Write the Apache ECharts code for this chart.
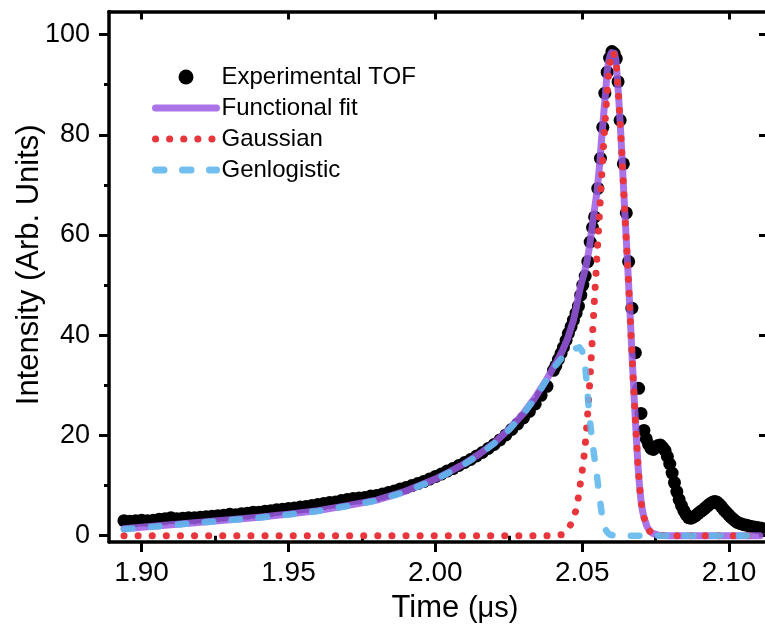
<!DOCTYPE html>
<html><head><meta charset="utf-8">
<script src="https://cdn.jsdelivr.net/npm/echarts@6/dist/echarts.min.js"></script>
<style>html,body{margin:0;padding:0;background:#fff;overflow:hidden}#c{width:765px;height:631px}</style>
</head><body><div id="c"></div>
<script>
// Experimental TOF data (time in µs, intensity in arb. units)
const expTime = [
1.894,1.896,1.898,1.900,1.902,1.904,1.906,1.908,1.910,1.912,1.914,1.916,1.918,1.920,1.922,1.924,1.926,1.928,1.930,1.932,
1.934,1.936,1.938,1.940,1.942,1.944,1.946,1.948,1.950,1.952,1.954,1.956,1.958,1.960,1.962,1.964,1.966,1.968,1.970,1.972,
1.974,1.976,1.978,1.980,1.982,1.984,1.986,1.988,1.990,1.992,1.994,1.996,1.998,2.000,2.002,2.004,2.006,2.008,2.010,2.012,
2.014,2.016,2.018,2.020,2.022,2.024,2.026,2.028,2.030,2.032,2.034,2.036,2.038,
2.0402,2.0410,2.0419,2.0428,2.0436,2.0445,2.0453,2.0462,2.0470,2.0479,2.0487,2.0495,2.0502,2.0510,2.0519,2.0527,2.0535,2.0542,
2.0553,2.0562,2.0570,2.0577,2.0585,2.0593,2.0601,2.0609,2.0616,2.0622,2.0629,2.0640,2.0650,2.0658,2.0669,2.0681,2.0692,2.0700,
2.0710,2.0718,2.0726,2.0734,2.0742,2.0750,2.0758,2.0766,2.0774,2.0782,2.0790,2.0798,2.0806,2.0814,2.0822,2.0830,2.0838,2.0846,
2.0854,2.0862,2.0870,2.0878,2.0886,2.0894,2.0902,2.0910,2.0918,2.0926,2.0934,2.0942,2.0950,2.0958,2.0966,2.0974,2.0982,2.0990,
2.0998,2.1006,2.1014,2.1022,2.1030,2.1040,2.1050,2.1060,2.1070,2.1080,2.1090,2.1100,2.1110
];
const expValue = [
3.0,2.9,3.0,3.1,3.0,3.1,3.3,3.4,3.6,3.4,3.5,3.6,3.6,3.7,3.8,3.9,4.0,4.1,4.3,4.2,
4.4,4.5,4.7,4.7,4.9,5.0,5.2,5.3,5.4,5.5,5.7,5.8,6.0,6.2,6.4,6.6,6.7,7.0,7.2,7.4,
7.5,7.6,7.9,8.0,8.3,8.6,8.9,9.3,9.6,10.0,10.4,10.8,11.3,11.8,12.3,12.9,13.4,14.0,14.6,15.2,
15.9,16.6,17.4,18.2,19.1,20.1,21.2,22.3,23.5,24.8,26.3,28.0,29.8,
33.0,33.9,35.2,36.4,37.6,39.0,40.4,41.7,43.0,44.4,45.8,48.0,50.0,51.8,54.7,58.6,61.5,63.6,
69.3,75.3,81.5,88.3,92.5,95.3,96.6,96.2,95.2,90.6,82.9,74.2,64.4,54.7,45.4,36.5,29.4,24.4,
21.0,19.3,18.2,17.4,17.2,17.6,18.0,18.1,17.6,17.0,15.8,14.3,12.5,10.6,8.8,7.2,6.0,5.0,
4.2,3.6,3.5,3.7,4.0,4.4,4.8,5.1,5.5,5.9,6.3,6.6,6.8,6.7,6.3,5.8,5.2,4.7,
4.2,3.7,3.3,2.9,2.6,2.4,2.2,2.1,1.9,1.8,1.7,1.6,1.5
];
// Fit curves sampled on a shared time grid
const fitTime = [
1.894,1.900,1.910,1.920,1.930,1.940,1.950,1.960,1.970,1.980,1.990,2.000,2.005,2.010,2.015,2.020,2.025,2.030,2.034,2.038,
2.041,2.043,2.045,2.047,2.0480,2.0485,2.0490,2.0495,2.0500,2.0505,2.0510,2.0515,2.0520,2.0525,2.0530,2.0535,2.0540,2.0545,
2.0550,2.0555,2.0560,2.0565,2.0570,2.0575,2.0580,2.0585,2.0590,2.0595,2.0600,2.0605,2.0610,2.0615,2.0620,2.0625,2.0630,
2.0635,2.0640,2.0645,2.0650,2.0655,2.0660,2.0665,2.0670,2.0675,2.0680,2.0685,2.0690,2.0695,2.0700,2.0705,2.0710,2.0715,
2.0720,2.0730,2.0740,2.0760,2.0790,2.0900,2.1000,2.1105
];
const fitValue = [
1.4,1.7,2.2,2.7,3.2,3.7,4.3,5.0,6.0,7.1,8.9,11.3,12.8,14.4,16.3,18.5,21.2,24.4,27.6,31.3,
34.4,36.6,39.3,43.0,45.6,47.2,48.6,49.9,51.0,52.0,53.2,54.4,56.0,57.8,60.0,62.2,64.3,66.5,
68.5,71.5,74.5,78.5,82.0,85.5,88.8,92.8,94.6,95.8,96.4,96.6,96.3,94.8,91.0,86.5,81.5,
76.0,70.2,64.5,59.0,53.5,47.8,41.5,35.5,29.5,24.0,18.8,13.8,10.0,7.0,5.0,3.7,2.8,
1.9,0.9,0.45,0.1,0,0,0,0
];
const gaussValue = [
0,0,0,0,0,0,0,0,0,0,0,0,0,0,0,0,0,0,0,0,
0.1,0.2,1.0,3.3,5.4,7.0,8.8,11.0,13.0,15.2,18.0,21.5,25.5,30.0,34.8,40.0,45.5,50.5,
55.5,60.5,65.5,70.5,75.5,80.0,84.5,88.5,92.0,94.5,96.0,96.6,96.3,94.8,91.0,86.5,81.5,
76.0,70.2,64.5,59.0,53.5,47.8,41.5,35.5,29.5,24.0,18.8,13.8,10.0,7.0,5.0,3.7,2.8,
1.9,0.9,0.45,0.1,0,0,0,0
];
const genlogValue = [
1.3,1.6,2.1,2.6,3.1,3.6,4.2,4.9,5.9,7.0,8.8,11.2,12.7,14.3,16.2,18.4,21.1,24.3,27.5,31.2,
34.0,35.4,36.4,37.1,37.4,37.6,37.6,37.3,36.8,35.8,33.8,30.8,27.0,23.6,21.0,18.5,16.2,14.2,
12.0,9.6,7.3,5.0,3.2,2.0,1.2,0.7,0.4,0.2,0.1,0.05,0,0,0,0,0,
0,0,0,0,0,0,0,0,0,0,0,0,0,0,0,0,0,
0,0,0,0,0,0,0,0
];
const xMajorTicks = [1.90, 1.95, 2.00, 2.05, 2.10];
const xMinorTicks = [1.925, 1.975, 2.025, 2.075];
const yMajorTicks = [0, 20, 40, 60, 80, 100];
const yMinorTicks = [10, 30, 50, 70, 90];
const xRange = [1.8889, 2.1129];
const yRange = [-1.26, 104.6];

const FONT = "'Liberation Sans', Arial, sans-serif";
const pairs = (xs, ys) => xs.map((x, i) => [x, ys[i]]);

const chart = echarts.init(document.getElementById('c'), null, {renderer: 'canvas'});
const axisLine = {show: true, onZero: false, lineStyle: {color: '#000', width: 3.5}};
const noSplit = {show: false};
const hiddenSymbol = {color: 'rgba(0,0,0,0)', borderWidth: 0, opacity: 0};

chart.setOption({
  animation: false,
  backgroundColor: '#fff',
  grid: {left: 109, width: 658, top: 11.5, height: 530.5, containLabel: false, outerBoundsMode: 'none'},
  legend: {
    orient: 'vertical', left: 147, top: 60, itemGap: 7,
    itemWidth: 61, itemHeight: 15,
    textStyle: {fontSize: 24, color: '#000', fontFamily: FONT},
    lineStyle: {width: 7},
    data: [
      {name: 'Experimental TOF', icon: 'circle', itemStyle: {color: '#000', opacity: 1}},
      {name: 'Functional fit', itemStyle: hiddenSymbol},
      {name: 'Gaussian', itemStyle: hiddenSymbol},
      {name: 'Genlogistic', itemStyle: hiddenSymbol}
    ]
  },
  xAxis: [
    {
      type: 'value', position: 'bottom', min: xRange[0], max: xRange[1],
      axisLine: axisLine,
      axisTick: {show: true, inside: false, length: 10, lineStyle: {color: '#000', width: 3}, customValues: xMajorTicks},
      axisLabel: {customValues: xMajorTicks, formatter: v => v.toFixed(2), fontSize: 28, color: '#000', margin: 17, fontFamily: FONT},
      splitLine: noSplit,
      name: '{a|Time }{b|(μs)}', nameLocation: 'middle', nameGap: 51, nameMoveOverlap: false,
      nameTextStyle: {
        padding: [0, 0, 0, 34],
        rich: {
          a: {fontSize: 31, color: '#000', fontFamily: FONT},
          b: {fontSize: 29, color: '#000', fontFamily: FONT}
        }
      }
    },
    {
      type: 'value', position: 'bottom', min: xRange[0], max: xRange[1],
      axisLine: {show: false},
      axisTick: {show: true, inside: false, length: 5, lineStyle: {color: '#000', width: 3}, customValues: xMinorTicks},
      axisLabel: {show: false}, splitLine: noSplit
    },
    {
      type: 'value', position: 'top', min: xRange[0], max: xRange[1],
      axisLine: axisLine,
      axisTick: {show: true, inside: true, length: 8, lineStyle: {color: '#000', width: 3}, customValues: xMajorTicks},
      axisLabel: {show: false}, splitLine: noSplit
    }
  ],
  yAxis: [
    {
      type: 'value', position: 'left', min: yRange[0], max: yRange[1],
      axisLine: axisLine,
      axisTick: {show: true, inside: false, length: 10, lineStyle: {color: '#000', width: 3}, customValues: yMajorTicks},
      axisLabel: {customValues: yMajorTicks, formatter: v => String(Math.round(v)), fontSize: 27, color: '#000', margin: 19, fontFamily: FONT},
      splitLine: noSplit,
      name: 'Intensity (Arb. Units)', nameLocation: 'middle', nameGap: 64, nameMoveOverlap: false,
      nameTextStyle: {fontSize: 31, color: '#000', fontFamily: FONT, padding: [0, 0, 0, 24]}
    },
    {
      type: 'value', position: 'left', min: yRange[0], max: yRange[1],
      axisLine: {show: false},
      axisTick: {show: true, inside: false, length: 5, lineStyle: {color: '#000', width: 3}, customValues: yMinorTicks},
      axisLabel: {show: false}, splitLine: noSplit
    },
    {
      type: 'value', position: 'right', min: yRange[0], max: yRange[1],
      axisLine: {show: true, onZero: false, lineStyle: {color: '#000', width: 3.5}},
      axisTick: {show: true, inside: true, length: 8, lineStyle: {color: '#000', width: 3}, customValues: yMajorTicks},
      axisLabel: {show: false}, splitLine: noSplit
    }
  ],
  series: [
    {
      name: 'Experimental TOF', type: 'scatter', xAxisIndex: 0, yAxisIndex: 0,
      data: pairs(expTime, expValue), symbol: 'circle', symbolSize: 13,
      itemStyle: {color: '#000', opacity: 1}, z: 2
    },
    {
      name: 'Functional fit', type: 'line', xAxisIndex: 0, yAxisIndex: 0,
      data: pairs(fitTime, fitValue), symbol: 'none', showSymbol: false,
      lineStyle: {color: '#9b5ce4', width: 7, opacity: 0.85, join: 'round', cap: 'round'},
      itemStyle: {color: '#9b5ce4'}, z: 3
    },
    {
      name: 'Gaussian', type: 'line', xAxisIndex: 0, yAxisIndex: 0,
      data: pairs(fitTime, gaussValue), symbol: 'none', showSymbol: false,
      lineStyle: {color: '#e8363c', width: 7, type: [0.1, 14], cap: 'round', join: 'round'},
      itemStyle: {color: '#e8363c'}, z: 4
    },
    {
      name: 'Genlogistic', type: 'line', xAxisIndex: 0, yAxisIndex: 0,
      data: pairs(fitTime, genlogValue), symbol: 'none', showSymbol: false,
      lineStyle: {color: '#62b8ec', width: 6.5, type: [8.5, 18.5], cap: 'round', join: 'round', opacity: 0.9},
      itemStyle: {color: '#62b8ec'}, z: 5
    }
  ]
});
</script></body></html>
